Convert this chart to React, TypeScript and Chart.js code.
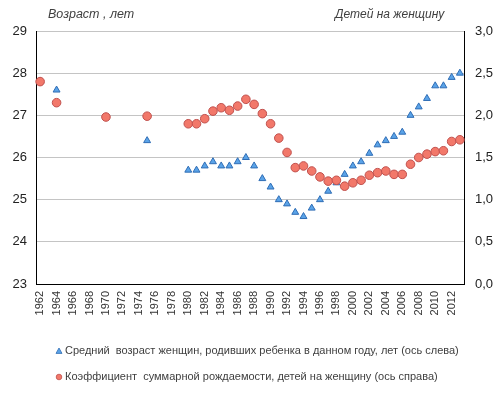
import React, { useEffect, useRef } from "react";
import { Chart, registerables } from "chart.js";

Chart.register(...registerables);

const years: string[] = [];
for (let y = 1962; y <= 2013; y++) years.push(String(y));

// Mean age of mothers (left axis), by year
const ageYears = [1962, 1964, 1975, 1980, 1981, 1982, 1983, 1984, 1985, 1986, 1987, 1988, 1989, 1990, 1991, 1992, 1993, 1994, 1995, 1996, 1997, 1998, 1999, 2000, 2001, 2002, 2003, 2004, 2005, 2006, 2007, 2008, 2009, 2010, 2011, 2012, 2013];
const ageValues = [27.8, 27.6, 26.4, 25.7, 25.7, 25.8, 25.9, 25.8, 25.8, 25.9, 26.0, 25.8, 25.5, 25.3, 25.0, 24.9, 24.7, 24.6, 24.8, 25.0, 25.2, 25.4, 25.6, 25.8, 25.9, 26.1, 26.3, 26.4, 26.5, 26.6, 27.0, 27.2, 27.4, 27.7, 27.7, 27.9, 28.0];

// Total fertility rate (right axis), by year
const tfrYears = [1962, 1964, 1970, 1975, 1980, 1981, 1982, 1983, 1984, 1985, 1986, 1987, 1988, 1989, 1990, 1991, 1992, 1993, 1994, 1995, 1996, 1997, 1998, 1999, 2000, 2001, 2002, 2003, 2004, 2005, 2006, 2007, 2008, 2009, 2010, 2011, 2012, 2013];
const tfrValues = [2.40, 2.15, 1.98, 1.99, 1.90, 1.90, 1.96, 2.05, 2.09, 2.06, 2.11, 2.19, 2.13, 2.02, 1.90, 1.73, 1.56, 1.38, 1.40, 1.34, 1.27, 1.22, 1.23, 1.16, 1.20, 1.23, 1.29, 1.32, 1.34, 1.30, 1.30, 1.42, 1.50, 1.54, 1.57, 1.58, 1.69, 1.71];

const leftTitle = "Возраст , лет";
const rightTitle = "Детей на женщину";
const legendAge = "Средний  возраст женщин, родивших ребенка в данном году, лет (ось слева)";
const legendTfr = "Коэффициент  суммарной рождаемости, детей на женщину (ось справа)";

const toSeries = (ys: number[], vs: number[]) =>
  years.map((y) => {
    const i = ys.indexOf(Number(y));
    return i >= 0 ? vs[i] : null;
  });

const BLUE_FILL = "#5aa3e8";
const BLUE_LINE = "#2f6db5";
const RED_FILL = "#f2786a";
const RED_LINE = "#c0504d";
const FONT = "'Liberation Sans', Arial, sans-serif";

const textPlugin = {
  id: "customText",
  afterDraw(chart: any) {
    const ctx = chart.ctx as CanvasRenderingContext2D;
    ctx.save();
    ctx.fillStyle = "#404040";
    ctx.textBaseline = "middle";
    ctx.textAlign = "left";
    ctx.font = `italic 12.5px ${FONT}`;
    ctx.fillText(leftTitle, 48, 15);
    ctx.font = `italic 12px ${FONT}`;
    ctx.fillText(rightTitle, 335, 15);

    ctx.font = `11px ${FONT}`;
    // triangle marker
    ctx.beginPath();
    const tx = 59, ty = 351, r = 3;
    ctx.moveTo(tx, ty - r);
    ctx.lineTo(tx + r, ty + r * 0.8);
    ctx.lineTo(tx - r, ty + r * 0.8);
    ctx.closePath();
    ctx.fillStyle = BLUE_FILL;
    ctx.fill();
    ctx.strokeStyle = BLUE_LINE;
    ctx.lineWidth = 0.8;
    ctx.stroke();
    // circle marker
    ctx.beginPath();
    ctx.arc(59, 377, 2.8, 0, Math.PI * 2);
    ctx.fillStyle = RED_FILL;
    ctx.fill();
    ctx.strokeStyle = RED_LINE;
    ctx.stroke();

    ctx.fillStyle = "#404040";
    ctx.fillText(legendAge, 65, 351);
    ctx.fillText(legendTfr, 65, 377);
    ctx.restore();
  },
};

export default function App() {
  const ref = useRef<HTMLCanvasElement | null>(null);
  useEffect(() => {
    if (!ref.current) return;
    const chart = new Chart(ref.current, {
      type: "line",
      data: {
        labels: years,
        datasets: [
          {
            label: legendAge,
            data: toSeries(ageYears, ageValues),
            yAxisID: "y",
            showLine: false,
            pointStyle: "triangle",
            pointRadius: 4,
            pointBackgroundColor: BLUE_FILL,
            pointBorderColor: BLUE_LINE,
            pointBorderWidth: 1,
            order: 2,
          },
          {
            label: legendTfr,
            data: toSeries(tfrYears, tfrValues),
            yAxisID: "y1",
            showLine: false,
            pointStyle: "circle",
            pointRadius: 4.3,
            pointBackgroundColor: RED_FILL,
            pointBorderColor: RED_LINE,
            pointBorderWidth: 1,
            order: 1,
          },
        ],
      },
      options: {
        responsive: false,
        animation: false,
        layout: { padding: { top: 31, left: 0, right: 0, bottom: 70 } },
        plugins: { legend: { display: false }, tooltip: { enabled: false } },
        scales: {
          x: {
            offset: true,
            grid: { display: false, drawTicks: false },
            border: { display: true, color: "#000", width: 1 },
            ticks: {
              autoSkip: false,
              maxRotation: 90,
              minRotation: 90,
              padding: 7,
              color: "#333",
              font: { family: FONT, size: 11 },
              callback: (_v: any, i: number) => (i % 2 === 0 ? years[i] : ""),
            },
            afterFit: (s: any) => {
              s.height = 40;
            },
          },
          y: {
            position: "left",
            min: 23,
            max: 29,
            ticks: {
              stepSize: 1,
              padding: 9,
              color: "#222",
              font: { family: FONT, size: 13 },
            },
            grid: { color: "#c4c4c4", drawTicks: false },
            border: { display: true, color: "#000", width: 1 },
            afterFit: (s: any) => {
              s.width = 36;
            },
          },
          y1: {
            position: "right",
            min: 0,
            max: 3,
            ticks: {
              stepSize: 0.5,
              padding: 11,
              color: "#222",
              font: { family: FONT, size: 13 },
              callback: (v: any) => Number(v).toFixed(1).replace(".", ","),
            },
            grid: { display: false, drawTicks: false },
            border: { display: true, color: "#000", width: 1 },
            afterFit: (s: any) => {
              s.width = 36;
            },
          },
        },
      },
      plugins: [textPlugin],
    });
    return () => chart.destroy();
  }, []);
  return (
    <div style={{ position: "absolute", left: 0, top: 0, width: 500, height: 394, background: "#fff" }}>
      <canvas ref={ref} width={500} height={394} style={{ display: "block" }} />
    </div>
  );
}
